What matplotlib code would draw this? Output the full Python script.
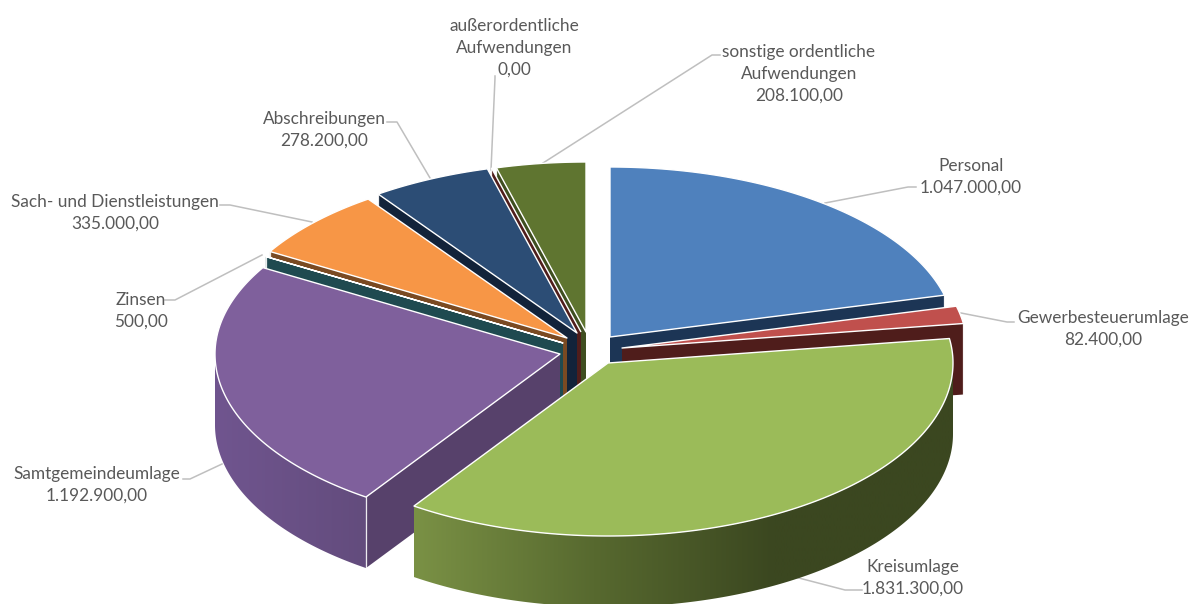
import numpy as np
import matplotlib
matplotlib.use("Agg")
import matplotlib.pyplot as plt
from matplotlib.colors import LinearSegmentedColormap

categories = ["Personal", "Gewerbesteuerumlage", "Kreisumlage", "Samtgemeindeumlage", "Zinsen",
              "Sach- und Dienstleistungen", "Abschreibungen",
              "außerordentliche\nAufwendungen", "sonstige ordentliche\nAufwendungen"]
values = [1047000, 82400, 1831300, 1192900, 500, 335000, 278200, 0, 208100]
value_labels = ["1.047.000,00", "82.400,00", "1.831.300,00", "1.192.900,00", "500,00",
                "335.000,00", "278.200,00", "0,00", "208.100,00"]

# style: colours of top faces and radial walls, explosion shift per slice
top_colors = ["#4f81bd", "#c0504d", "#9bbb59", "#7f609c", "#4bacc6", "#f79646", "#2c4d75", "#772c2a", "#5f7530"]
wall_colors = ["#1c3555", "#4f1d1b", "#556b2f", "#57416b", "#1f4a50", "#7a4a22", "#12233a", "#4f1d1b", "#3f4e20"]
shift = [(24, -3), (36, 8), (22, 23), (-26, 14), (-23, 3), (-19, -2), (-9, -7), (-5, -8), (0, -8)]
draw_order = [8, 7, 6, 5, 4, 3, 0, 1, 2]
label_pos = [(971, 177), (1103, 329), (913, 578), (97, 485), (141, 311), (115, 213), (324, 130), (514, 48), (799, 74)]
leaders = [[(825, 203), (908, 187), (916, 187)], [(961, 313), (1007, 322), (1014, 322)],
           [(795, 577), (845, 590), (862, 590)], [(222, 464), (190, 479), (183, 479)],
           [(262, 255), (175, 300), (165, 300)], [(312, 222), (230, 205), (220, 205)],
           [(430, 178), (397, 122), (387, 122)], [(491, 170), (495, 78), (495, 76)],
           [(543, 163), (712, 55), (720, 55)]]
CX, CY, RX, RY_FAR, RY_NEAR, H = 586, 340, 345, 170, 173, 71
ramps = {2: ["#7a9145", "#57692f", "#3b4720", "#3b4720"], 3: ["#70558f", "#634c7d"]}

fig = plt.figure(figsize=(11.92, 6.04), dpi=100)
ax = fig.add_axes([0, 0, 1, 1])
ax.axis("off")

total = sum(values)
ends = np.cumsum(values) / total * 2 * np.pi
starts = np.r_[0, ends[:-1]]


def rim(tip, t):
    c = np.cos(t)
    return np.c_[tip[0] + RX * np.sin(t), tip[1] - np.where(c > 0, RY_FAR, RY_NEAR) * c]


def radial_wall(tip, t, color, z):
    p = rim(tip, np.array([t]))[0]
    q = [tip, p, (p[0], p[1] + H), (tip[0], tip[1] + H)]
    ax.add_patch(plt.Polygon(q, closed=True, fc=color, ec="none", zorder=z))
    ax.plot([p[0], p[0]], [p[1], p[1] + H], color="white", lw=0.9, zorder=z + 0.3, alpha=.9)


def outer_wall(i, tip, t0, t1, z):
    a = max(t0, np.pi / 2)
    b = min(t1, 3 * np.pi / 2)
    if b <= a:
        return
    pts = rim(tip, np.linspace(a, b, 200))
    poly = np.vstack([pts, pts[::-1] + [0, H]])
    x0, x1 = pts[:, 0].min(), pts[:, 0].max()
    cmap = LinearSegmentedColormap.from_list("w", ramps[i])
    im = ax.imshow(np.linspace(0, 1, 256)[None, :], cmap=cmap, aspect="auto",
                   extent=(x0, x1, 700, 0), zorder=z, interpolation="bilinear")
    patch = plt.Polygon(poly, closed=True, transform=ax.transData, fc="none", ec="none")
    ax.add_patch(patch)
    im.set_clip_path(patch)


for z, i in enumerate(draw_order):
    z = z * 2 + 2
    tip = (CX + shift[i][0], CY + shift[i][1])
    t0, t1 = starts[i], ends[i]
    if np.sin(t0) < -1e-6:
        radial_wall(tip, t0, wall_colors[i], z)
    if np.sin(t1) > 1e-6:
        radial_wall(tip, t1, wall_colors[i], z)
    outer_wall(i, tip, t0, t1, z + 0.1)
    ts = np.linspace(t0, t1, max(int((t1 - t0) * 80), 2))
    poly = np.vstack([[tip], rim(tip, ts)])
    ax.add_patch(plt.Polygon(poly, closed=True, fc=top_colors[i], ec="white", lw=1.0, joinstyle="round",
                             zorder=z + 0.5))

for pts in leaders:
    xs, ys = zip(*pts)
    ax.plot(xs, ys, color="#bfbfbf", lw=1.1, zorder=1)

for name, val, (x, y) in zip(categories, value_labels, label_pos):
    ax.text(x, y, name + "\n" + val, ha="center", va="center", fontsize=12.4, color="#595959",
            family="Lato", linespacing=1.43, zorder=30)

ax.set_xlim(0, 1192)
ax.set_ylim(604, 0)
fig.savefig("out.png", dpi=100)
